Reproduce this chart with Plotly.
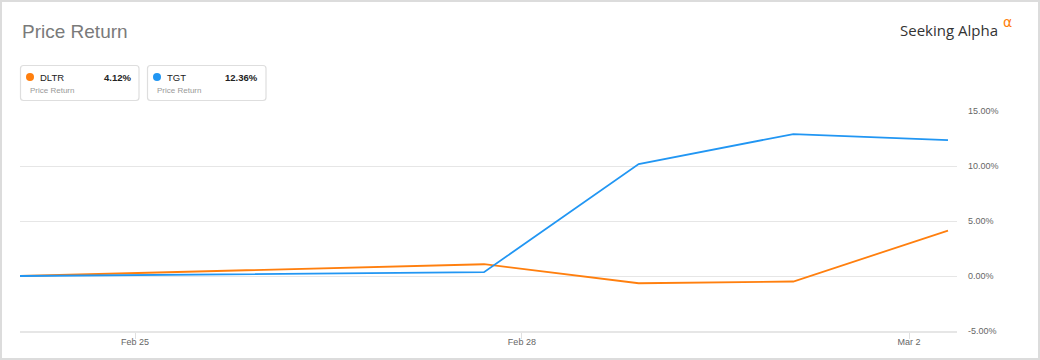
import plotly.graph_objects as go

# ---- data ----
slots = [0, 3, 4, 5, 6]            # ordinal trading-slot index on the x axis
dltr = [0.0, 1.07, -0.66, -0.50, 4.12]
tgt = [0.0, 0.35, 10.18, 12.90, 12.36]
series_names = ["DLTR", "TGT"]
series_last = ["4.12%", "12.36%"]
series_colors = ["#ff7f0e", "#2196f3"]
x_tick_pos = [0.744, 3.245, 5.748]
x_tick_text = ["Feb 25", "Feb 28", "Mar 2"]
y_tick_vals = [-5, 0, 5, 10, 15]
y_tick_text = ["-5.00%", "0.00%", "5.00%", "10.00%", "15.00%"]

W, H = 1040, 360
L, R, T, B = 20, 83, 111, 29
PW, PH = W - L - R, H - T - B


def px(x):
    return (x - L) / PW


def py(y):
    return (H - B - y) / PH


FONT = "Liberation Sans, Arial, sans-serif"

fig = go.Figure()
for name, vals, col in zip(series_names, [dltr, tgt], series_colors):
    fig.add_trace(go.Scatter(x=slots, y=vals, mode="lines", name=name,
                             line=dict(color=col, width=1.8), showlegend=False))

shapes = []
annotations = []

# outer border
shapes.append(dict(type="rect", xref="paper", yref="paper",
                   x0=px(1), x1=px(1039), y0=py(1), y1=py(359),
                   line=dict(color="#dcdcdc", width=2), layer="below"))


def rounded_rect(x0, y0, x1, y1, r):
    X = lambda v: px(v)
    Y = lambda v: py(v)
    p = (f"M {X(x0 + r)},{Y(y0)} L {X(x1 - r)},{Y(y0)} Q {X(x1)},{Y(y0)} {X(x1)},{Y(y0 + r)} "
         f"L {X(x1)},{Y(y1 - r)} Q {X(x1)},{Y(y1)} {X(x1 - r)},{Y(y1)} "
         f"L {X(x0 + r)},{Y(y1)} Q {X(x0)},{Y(y1)} {X(x0)},{Y(y1 - r)} "
         f"L {X(x0)},{Y(y0 + r)} Q {X(x0)},{Y(y0)} {X(x0 + r)},{Y(y0)} Z")
    return dict(type="path", xref="paper", yref="paper", path=p,
                line=dict(color="#dedede", width=1.2), fillcolor="white")


boxes = [(20.5, 139), (147.5, 266)]
for (bx0, bx1), name, last, col in zip(boxes, series_names, series_last, series_colors):
    shapes.append(rounded_rect(bx0, 65.5, bx1, 100.5, 3))
    shapes.append(dict(type="circle", xref="paper", yref="paper",
                       x0=px(bx0 + 5.5), x1=px(bx0 + 13.5), y0=py(73), y1=py(81),
                       fillcolor=col, line=dict(width=0)))
    annotations.append(dict(x=px(bx0 + 17), y=py(77), xref="paper", yref="paper",
                            text=name, showarrow=False, xanchor="left", yanchor="middle",
                            font=dict(family=FONT, size=9.5, color="#222")))
    annotations.append(dict(x=px(bx1 - 6), y=py(77), xref="paper", yref="paper",
                            text=f"<b>{last}</b>", showarrow=False, xanchor="right",
                            yanchor="middle", font=dict(family=FONT, size=9.5, color="#222")))
    annotations.append(dict(x=px(bx0 + 7.5), y=py(90), xref="paper", yref="paper",
                            text="Price Return", showarrow=False, xanchor="left",
                            yanchor="middle", font=dict(family=FONT, size=8, color="#999")))

# title
annotations.append(dict(x=px(20), y=py(31), xref="paper", yref="paper", text="Price Return",
                        showarrow=False, xanchor="left", yanchor="middle",
                        font=dict(family=FONT, size=19, color="#7a7a7a")))
# logo
annotations.append(dict(x=px(1000), y=py(30), xref="paper", yref="paper", text="Seeking Alpha",
                        showarrow=False, xanchor="right", yanchor="middle",
                        font=dict(family="Open Sans, sans-serif", size=15, color="#333")))
annotations.append(dict(x=px(1001), y=py(22), xref="paper", yref="paper", text="α",
                        showarrow=False, xanchor="left", yanchor="middle",
                        font=dict(family="DejaVu Sans, sans-serif", size=14, color="#ff7f0e")))

fig.update_layout(
    width=W, height=H,
    margin=dict(l=L, r=R, t=T, b=B, pad=0, autoexpand=False),
    paper_bgcolor="white", plot_bgcolor="white",
    shapes=shapes, annotations=annotations,
    xaxis=dict(range=[0, PW / ((948 - 20) / 6)], showgrid=False, zeroline=False,
               automargin=False,
               tickmode="array", tickvals=x_tick_pos, ticktext=x_tick_text,
               ticks="outside", ticklen=6, tickcolor="#e0e0e0", tickwidth=1,
               ticklabelstandoff=-5,
               showline=True, linecolor="#e6e6e6", linewidth=2,
               tickfont=dict(family=FONT, size=9, color="#666")),
    yaxis=dict(range=[-5, 15], side="right", showgrid=True, gridcolor="#e6e6e6",
               automargin=False,
               gridwidth=1, zeroline=False, tickmode="array", tickvals=y_tick_vals,
               ticktext=y_tick_text, ticks="", ticklabelstandoff=10,
               tickfont=dict(family=FONT, size=9, color="#666")),
    hovermode=False,
)

fig.write_html("out.html")
